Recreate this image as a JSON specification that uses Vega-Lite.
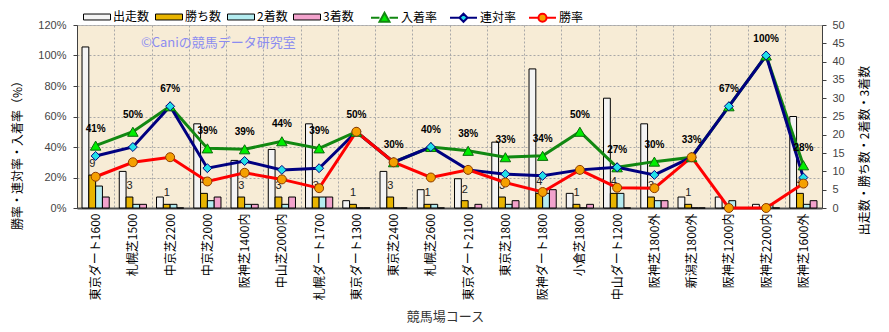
{
  "$schema": "https://vega.github.io/schema/vega-lite/v6.json",
  "width": 745,
  "height": 183,
  "autosize": {"type": "none"},
  "padding": {"left": 77, "top": 25, "right": 67, "bottom": 124},
  "background": "white",
  "config": {
    "font": "Noto Sans CJK JP",
    "view": {"fill": "#f7ecd6", "stroke": "#b8b8b8"},
    "axis": {"titleFont": "Noto Sans CJK JP", "titleFontWeight": "normal", "labelFont": "Liberation Sans"},
    "legend": {"labelFont": "Noto Sans CJK JP", "labelFontSize": 12, "labelColor": "#000"}
  },
  "data": {"values": [
    {"course": "東京ダート1600", "出走数": 44, "勝ち数": 9, "2着数": 6, "3着数": 3, "入着率": 0.409, "連対率": 0.341, "勝率": 0.205},
    {"course": "札幌芝1500", "出走数": 10, "勝ち数": 3, "2着数": 1, "3着数": 1, "入着率": 0.5, "連対率": 0.4, "勝率": 0.3},
    {"course": "中京芝2200", "出走数": 3, "勝ち数": 1, "2着数": 1, "3着数": 0, "入着率": 0.667, "連対率": 0.667, "勝率": 0.333},
    {"course": "中京芝2000", "出走数": 23, "勝ち数": 4, "2着数": 2, "3着数": 3, "入着率": 0.391, "連対率": 0.261, "勝率": 0.174},
    {"course": "阪神芝1400内", "出走数": 13, "勝ち数": 3, "2着数": 1, "3着数": 1, "入着率": 0.385, "連対率": 0.308, "勝率": 0.231},
    {"course": "中山芝2000内", "出走数": 16, "勝ち数": 3, "2着数": 1, "3着数": 3, "入着率": 0.4375, "連対率": 0.25, "勝率": 0.1875},
    {"course": "札幌ダート1700", "出走数": 23, "勝ち数": 3, "2着数": 3, "3着数": 3, "入着率": 0.391, "連対率": 0.261, "勝率": 0.13},
    {"course": "東京ダート1300", "出走数": 2, "勝ち数": 1, "2着数": 0, "3着数": 0, "入着率": 0.5, "連対率": 0.5, "勝率": 0.5},
    {"course": "東京芝2400", "出走数": 10, "勝ち数": 3, "2着数": 0, "3着数": 0, "入着率": 0.3, "連対率": 0.3, "勝率": 0.3},
    {"course": "札幌芝2600", "出走数": 5, "勝ち数": 1, "2着数": 1, "3着数": 0, "入着率": 0.4, "連対率": 0.4, "勝率": 0.2},
    {"course": "東京ダート2100", "出走数": 8, "勝ち数": 2, "2着数": 0, "3着数": 1, "入着率": 0.375, "連対率": 0.25, "勝率": 0.25},
    {"course": "東京芝1800", "出走数": 18, "勝ち数": 3, "2着数": 1, "3着数": 2, "入着率": 0.333, "連対率": 0.222, "勝率": 0.167},
    {"course": "阪神ダート1800", "出走数": 38, "勝ち数": 4, "2着数": 4, "3着数": 5, "入着率": 0.342, "連対率": 0.211, "勝率": 0.105},
    {"course": "小倉芝1800", "出走数": 4, "勝ち数": 1, "2着数": 0, "3着数": 1, "入着率": 0.5, "連対率": 0.25, "勝率": 0.25},
    {"course": "中山ダート1200", "出走数": 30, "勝ち数": 4, "2着数": 4, "3着数": 0, "入着率": 0.267, "連対率": 0.267, "勝率": 0.133},
    {"course": "阪神芝1800外", "出走数": 23, "勝ち数": 3, "2着数": 2, "3着数": 2, "入着率": 0.304, "連対率": 0.217, "勝率": 0.13},
    {"course": "新潟芝1800外", "出走数": 3, "勝ち数": 1, "2着数": 0, "3着数": 0, "入着率": 0.333, "連対率": 0.333, "勝率": 0.333},
    {"course": "阪神芝1200内", "出走数": 3, "勝ち数": 0, "2着数": 2, "3着数": 0, "入着率": 0.667, "連対率": 0.667, "勝率": 0},
    {"course": "阪神芝2200内", "出走数": 1, "勝ち数": 0, "2着数": 1, "3着数": 0, "入着率": 1.0, "連対率": 1.0, "勝率": 0},
    {"course": "阪神芝1600外", "出走数": 25, "勝ち数": 4, "2着数": 1, "3着数": 2, "入着率": 0.28, "連対率": 0.2, "勝率": 0.16}
  ]},
  "layer": [
    {
      "transform": [{"fold": ["出走数", "勝ち数", "2着数", "3着数"], "as": ["kind", "count"]}],
      "layer": [
        {
          "mark": {"type": "bar", "stroke": "#000", "strokeWidth": 1},
          "encoding": {
            "x": {
              "field": "course", "type": "nominal", "sort": null,
              "scale": {"paddingInner": 0, "paddingOuter": 0, "domain": ["東京ダート1600", "札幌芝1500", "中京芝2200", "中京芝2000", "阪神芝1400内", "中山芝2000内", "札幌ダート1700", "東京ダート1300", "東京芝2400", "札幌芝2600", "東京ダート2100", "東京芝1800", "阪神ダート1800", "小倉芝1800", "中山ダート1200", "阪神芝1800外", "新潟芝1800外", "阪神芝1200内", "阪神芝2200内", "阪神芝1600外"]},
              "axis": {
                "title": "競馬場コース", "titleFontSize": 13, "titleColor": "#333", "titleX": 368, "titleY": 108, "titleBaseline": "middle",
                "labelAngle": 270, "labelFont": "Noto Sans CJK JP", "labelFontSize": 12, "labelColor": "#000", "labelPadding": 5,
                "grid": true, "gridDash": [2, 2], "gridColor": "#a8a8a8", "tickBand": "extent", "ticks": false,
                "domainColor": "#505050", "domainWidth": 2
              }
            },
            "xOffset": {"field": "kind", "type": "nominal", "scale": {"domain": ["出走数", "勝ち数", "2着数", "3着数"], "paddingInner": 0, "paddingOuter": 0.74}},
            "y": {
              "field": "count", "type": "quantitative",
              "scale": {"domain": [0, 50], "nice": false},
              "axis": {
                "orient": "right", "values": [0, 5, 10, 15, 20, 25, 30, 35, 40, 45, 50], "tickCount": 11, "labelOverlap": false,
                "title": "出走数・勝ち数・2着数・3着数", "titleAngle": 270, "titleFontSize": 12, "titleColor": "#000", "titleX": 42, "titleY": 125, "titleBaseline": "middle",
                "labelFontSize": 11, "labelColor": "#444", "tickSize": 4, "labelPadding": 6, "domainColor": "#404040", "tickColor": "#404040", "grid": false
              }
            },
            "color": {
              "field": "kind", "type": "nominal",
              "scale": {"domain": ["出走数", "勝ち数", "2着数", "3着数"], "range": ["#f4f4f4", "#e8b400", "#b4ecf0", "#f2a2cc"]},
              "legend": {
                "orient": "none", "legendX": 6, "legendY": -22, "direction": "horizontal", "columns": 4, "title": null,
                "symbolType": "M-1,-0.22H1V0.22H-1Z", "symbolSize": 729, "symbolStrokeColor": "#000", "symbolStrokeWidth": 1,
                "labelOffset": 2, "columnPadding": 3
              }
            }
          }
        },
        {
          "transform": [{"filter": "datum.kind === '勝ち数' && datum.count > 0"}],
          "mark": {"type": "text", "font": "Liberation Sans", "fontSize": 11, "color": "#222", "baseline": "middle", "dy": -11},
          "encoding": {
            "x": {"field": "course", "type": "nominal", "sort": null},
            "xOffset": {"field": "kind", "type": "nominal"},
            "y": {"field": "count", "type": "quantitative"},
            "text": {"field": "count", "type": "quantitative"}
          }
        }
      ]
    },
    {
      "layer": [
        {
          "transform": [{"fold": ["入着率", "連対率", "勝率"], "as": ["series", "rate"]}],
          "layer": [
            {
              "mark": {"type": "line", "strokeWidth": 3},
              "encoding": {
                "x": {"field": "course", "type": "nominal", "sort": null},
                "y": {
                  "field": "rate", "type": "quantitative",
                  "scale": {"domain": [0, 1.2], "nice": false},
                  "axis": {
                    "orient": "left", "values": [0, 0.2, 0.4, 0.6, 0.8, 1.0, 1.2], "tickCount": 7, "labelOverlap": false, "format": ".0%",
                    "title": "勝率・連対率・入着率（%）", "titleFontSize": 12, "titleColor": "#000", "titleX": -60, "titleY": 127, "titleBaseline": "middle", "titleAngle": 270,
                    "labelFontSize": 11, "labelColor": "#444", "tickSize": 4, "labelPadding": 7, "domainColor": "#404040", "tickColor": "#404040",
                    "grid": true, "gridDash": [2, 2], "gridColor": "#a8a8a8"
                  }
                },
                "stroke": {
                  "field": "series", "type": "nominal",
                  "scale": {"domain": ["入着率", "連対率", "勝率"], "range": ["#118811", "#000080", "#ff0000"]},
                  "legend": {
                    "orient": "none", "legendX": 293, "legendY": -22, "direction": "horizontal", "columns": 3, "title": null,
                    "symbolSize": 729, "symbolStrokeWidth": 2,
                    "labelOffset": 2, "columnPadding": 8
                  }
                }
              }
            },
            {
              "transform": [{"filter": "false"}],
              "mark": {"type": "point", "filled": true, "opacity": 1},
              "encoding": {
                "x": {"field": "course", "type": "nominal", "sort": null},
                "y": {"field": "rate", "type": "quantitative"},
                "stroke": {"field": "series", "type": "nominal"},
                "fill": {"field": "series", "type": "nominal", "scale": {"domain": ["入着率", "連対率", "勝率"], "range": ["#00ee00", "#22e0e8", "#f5a000"]}},
                "shape": {"field": "series", "type": "nominal", "scale": {"domain": ["入着率", "連対率", "勝率"], "range": ["M-1,0H-0.37M0.37,0H1M-0.37,0.3L0,-0.36L0.37,0.3Z", "M-1,0H-0.3M0.3,0H1M-0.3,0L0,-0.3L0.3,0L0,0.3Z", "M-1,0H-0.3M0.3,0H1M0.3,0A0.3,0.3,0,1,1,-0.3,0A0.3,0.3,0,1,1,0.3,0Z"]}}
              }
            },
            {
              "transform": [{"filter": "datum.series === '入着率'"}],
              "mark": {"type": "point", "shape": "triangle-up", "filled": true, "fill": "#00ee00", "stroke": "#0a6a0a", "strokeWidth": 1, "size": 110, "opacity": 1},
              "encoding": {
                "x": {"field": "course", "type": "nominal", "sort": null},
                "y": {"field": "rate", "type": "quantitative"}
              }
            },
            {
              "transform": [{"filter": "datum.series === '連対率'"}],
              "mark": {"type": "point", "shape": "diamond", "filled": true, "fill": "#22e0e8", "stroke": "#000080", "strokeWidth": 1, "size": 80, "opacity": 1},
              "encoding": {
                "x": {"field": "course", "type": "nominal", "sort": null},
                "y": {"field": "rate", "type": "quantitative"}
              }
            },
            {
              "transform": [{"filter": "datum.series === '勝率'"}],
              "mark": {"type": "point", "shape": "circle", "filled": true, "fill": "#f5a000", "stroke": "#8a3a00", "strokeWidth": 1, "size": 80, "opacity": 1},
              "encoding": {
                "x": {"field": "course", "type": "nominal", "sort": null},
                "y": {"field": "rate", "type": "quantitative"}
              }
            }
          ]
        },
        {
          "mark": {"type": "text", "font": "Liberation Sans", "fontSize": 10, "fontWeight": "bold", "color": "#000", "baseline": "middle", "dy": -17},
          "encoding": {
            "x": {"field": "course", "type": "nominal", "sort": null},
            "y": {"field": "入着率", "type": "quantitative"},
            "text": {"field": "入着率", "type": "quantitative", "format": ".0%"}
          }
        },
        {
          "data": {"values": [{"label": "©Caniの競馬データ研究室"}]},
          "mark": {"type": "text", "font": "Noto Sans CJK JP", "fontSize": 13, "color": "#8c8cf0", "baseline": "middle", "align": "center", "dx": 11},
          "encoding": {
            "x": {"datum": "中京芝2000", "type": "nominal"},
            "y": {"datum": 1.08, "type": "quantitative"},
            "text": {"field": "label", "type": "nominal"}
          }
        }
      ]
    }
  ],
  "resolve": {"scale": {"y": "independent"}}
}
